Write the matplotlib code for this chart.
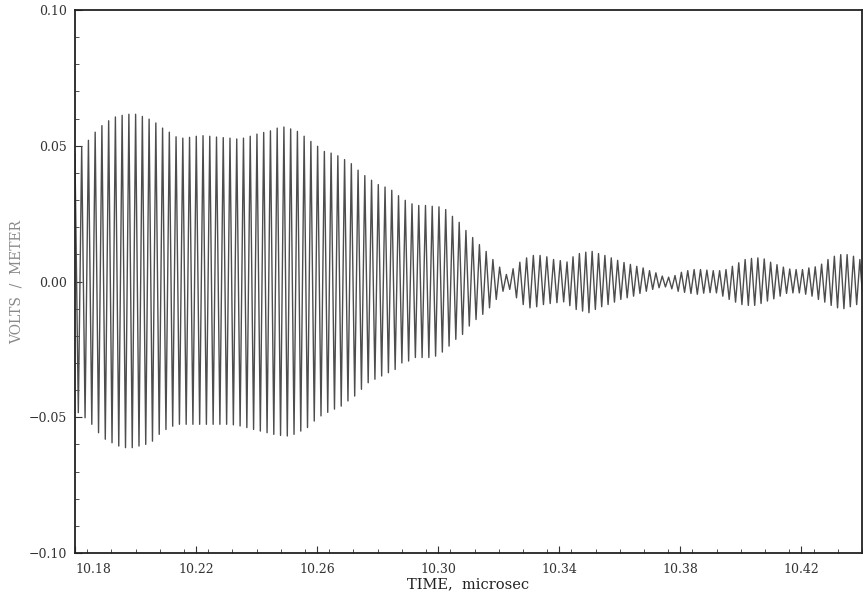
import numpy as np
import matplotlib
matplotlib.use("Agg")
import matplotlib.pyplot as plt
from matplotlib.ticker import MultipleLocator, FuncFormatter

# crest values of each cycle (volts / meter)
upper_left = [0.0497, 0.0520, 0.0550, 0.0574, 0.0592, 0.0606, 0.0612, 0.0616, 0.0616, 0.0608,
              0.0598, 0.0584, 0.0565, 0.0550, 0.0533, 0.0528, 0.0531, 0.0535,
              0.0537, 0.0535, 0.0532, 0.0530, 0.0528, 0.0525, 0.0528, 0.0535, 0.0543, 0.0549,
              0.0555, 0.0565, 0.0569, 0.0562, 0.0553, 0.0535, 0.0516, 0.0498,
              0.0479, 0.0473, 0.0463, 0.0449, 0.0434, 0.0410, 0.0390, 0.0373, 0.0357, 0.0348,
              0.0336, 0.0316, 0.0299, 0.0286, 0.0280, 0.0280, 0.0277, 0.0275,
              0.0265, 0.0240, 0.0218, 0.0188, 0.0162, 0.0136, 0.0111, 0.0081, 0.0053, 0.0026,
              0.0047, 0.0071, 0.0087, 0.0096, 0.0096, 0.0091, 0.0081, 0.0077, 0.0072]
upper_right = [0.0091, 0.0103, 0.0108, 0.0111, 0.0103, 0.0096, 0.0087, 0.0078, 0.0070, 0.0063,
               0.0056, 0.0050, 0.0040, 0.0032, 0.0020, 0.0016, 0.0022, 0.0034, 0.0040, 0.0044,
               0.0044, 0.0042, 0.0040, 0.0040, 0.0044, 0.0056, 0.0069, 0.0081, 0.0085, 0.0087,
               0.0083, 0.0071, 0.0062, 0.0053, 0.0046, 0.0044, 0.0044, 0.0050, 0.0054, 0.0064,
               0.0081, 0.0093, 0.0099, 0.0099, 0.0093, 0.0081]

# trough values, the one just before each crest
lower_left = [-0.0483, -0.0502, -0.0526, -0.0557, -0.0581, -0.0594, -0.0606, -0.0612, -0.0612, -0.0606,
              -0.0600, -0.0588, -0.0563, -0.0545, -0.0533, -0.0526, -0.0526, -0.0526, -0.0526,
              -0.0526, -0.0526, -0.0526, -0.0526, -0.0528, -0.0532, -0.0538, -0.0545, -0.0551,
              -0.0557, -0.0563, -0.0567, -0.0569, -0.0563, -0.0551, -0.0538, -0.0514,
              -0.0495, -0.0482, -0.0470, -0.0459, -0.0440, -0.0422, -0.0397, -0.0373, -0.0360,
              -0.0348, -0.0336, -0.0324, -0.0300, -0.0293, -0.0280, -0.0280, -0.0280, -0.0275,
              -0.0260, -0.0238, -0.0213, -0.0195, -0.0164, -0.0140, -0.0121, -0.0097, -0.0066,
              -0.0036, -0.0029, -0.0060, -0.0085, -0.0097, -0.0093, -0.0085, -0.0081, -0.0078, -0.0075]
lower_right = [-0.0089, -0.0103, -0.0109, -0.0115, -0.0103, -0.0093, -0.0085, -0.0076, -0.0066, -0.0060,
               -0.0054, -0.0044, -0.0036, -0.0029, -0.0023, -0.0020, -0.0027, -0.0036, -0.0040, -0.0044,
               -0.0047, -0.0043, -0.0041, -0.0042, -0.0054, -0.0066, -0.0076, -0.0085, -0.0088, -0.0088,
               -0.0081, -0.0072, -0.0064, -0.0054, -0.0044, -0.0042, -0.0042, -0.0047, -0.0054, -0.0066,
               -0.0076, -0.0088, -0.0097, -0.0100, -0.0093, -0.0085]
lead_crest = 0.047
tail_trough = -0.0075

# time of first crest and crest spacing (microsec) for the two stretches
left_start, left_period = 10.18221, 0.002227
right_start, right_period = 10.34453, 0.0021058

xticks = [10.18, 10.22, 10.26, 10.30, 10.34, 10.38, 10.42]

# zig-zag through trough / crest pairs
t = [left_start - left_period]
v = [lead_crest]
for start, period, ups, lows in [(left_start, left_period, upper_left, lower_left),
                                 (right_start, right_period, upper_right, lower_right)]:
    tc = start + period * np.arange(len(ups))
    for k in range(len(ups)):
        t += [tc[k] - period / 2, tc[k]]
        v += [lows[k], ups[k]]
t.append(t[-1] + right_period / 2)
v.append(tail_trough)

plt.rcParams['font.family'] = ['DejaVu Serif']


def fmt(x, pos):
    return f'{x:.2f}'.replace('-', '\u2212')


fig = plt.figure(figsize=(8.65, 5.98), dpi=100)
ax = fig.add_axes([75 / 865, 1 - 553 / 598, 787 / 865, 543 / 598])

ax.plot(t, v, color='#4d4d4d', lw=1.0)

ax.set_xlim(10.18, 10.44)
ax.set_ylim(-0.10, 0.10)

ax.set_xticks(xticks)
ax.xaxis.set_minor_locator(MultipleLocator(0.008))
ax.yaxis.set_major_locator(MultipleLocator(0.05))
ax.yaxis.set_minor_locator(MultipleLocator(0.01))
ax.xaxis.set_major_formatter(FuncFormatter(fmt))
ax.yaxis.set_major_formatter(FuncFormatter(fmt))

ax.tick_params(which='both', direction='in', top=False, right=False, colors='#333333')
ax.tick_params(which='major', length=5, width=0.8, labelsize=9)
ax.tick_params(which='minor', length=3, width=0.6)
ax.tick_params(axis='x', pad=7)
ax.tick_params(axis='y', pad=6)
ax.get_xticklabels()[0].set_horizontalalignment('left')

for s in ax.spines.values():
    s.set_linewidth(1.3)
    s.set_color('#222222')

ax.set_xlabel('TIME,  microsec', fontsize=10.5, color='#222222', labelpad=1)
ax.set_ylabel('VOLTS  /  METER', fontsize=10, color='#8a8a8a', labelpad=3)

fig.savefig('out.png', dpi=100)
